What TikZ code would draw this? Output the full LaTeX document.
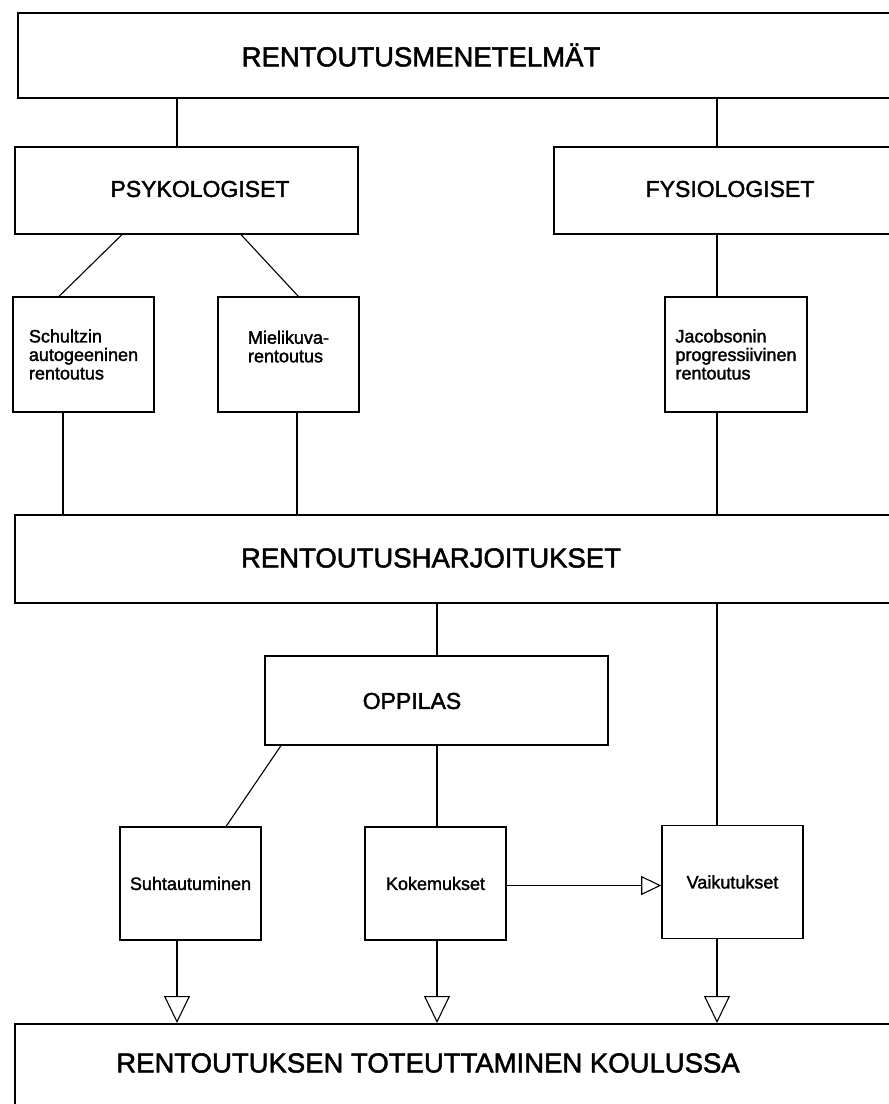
\documentclass[tikz,border=0pt]{standalone}
\usepackage{fontspec}
\setmainfont{Liberation Sans}[FakeBold=1.8]
\usetikzlibrary{arrows.meta}

\begin{document}
\begin{tikzpicture}[x=1pt,y=-1pt]

        \tikzstyle{link} = [line width=1.1pt]
        \tikzstyle{arrow} = [line width=1.1pt,-{Triangle[open,length=27pt,width=26pt,line width=1.1pt]}]
        \tikzstyle{arrowsm} = [line width=1.1pt,-{Triangle[open,length=20pt,width=19pt,line width=1.1pt]}]
        \tikzset{box/.style = {rectangle, draw, line width=1.6pt, inner sep=0pt, anchor=north west}, }
        \tikzset{sbox/.style = {box, anchor=center, minimum width=141pt, minimum height=115pt, align=left, font=\fontsize{18}{18.5}\selectfont}, }
        \tikzset{big/.style = {font=\fontsize{27.5}{30}\selectfont} }
        \tikzset{mid/.style = {font=\fontsize{23}{25}\selectfont} }

        \useasboundingbox (0,0) rectangle (889,1104);
        \clip (0,0) rectangle (889,1104);

        % columns of the vertical lines
        \coordinate (colA) at (177,0);
        \coordinate (colB) at (437,0);
        \coordinate (colC) at (717,0);
        \coordinate (colD) at (63,0);
        \coordinate (colE) at (297,0);

        \node[box, minimum width=890pt, minimum height=85pt] (menet) at (17,12) {};
        \node[big] (menetT) at (421,55) {RENTOUTUSMENETELMÄT};

        \node[box, minimum width=343pt, minimum height=87pt] (psy) at (14,146) {};
        \node[mid] (psyT) at (200,189) {PSYKOLOGISET};
        \node[box, minimum width=360pt, minimum height=87pt] (fys) at (553,146) {};
        \node[mid] (fysT) at (730,189) {FYSIOLOGISET};

        \node[sbox] (schultz) at (83.5,354.5) {Schultzin\\autogeeninen\\rentoutus};
        \node[sbox, text depth=16pt] (mieli) at (288.5,354.5) {Mielikuva-\\rentoutus};
        \node[sbox, minimum width=142pt] (jacob) at (736,354.5) {Jacobsonin\\progressiivinen\\rentoutus};

        \node[box, minimum width=890pt, minimum height=88pt] (harj) at (14,514) {};
        \node[big] (harjT) at (431,558) {RENTOUTUSHARJOITUKSET};

        \node[box, minimum width=343pt, minimum height=89pt] (oppi) at (264,655) {};
        \node[mid] (oppiT) at (412,701) {OPPILAS};

        \node[sbox, minimum height=113pt] (suht) at (190.5,883.5) {Suhtautuminen};
        \node[sbox, minimum height=113pt] (koke) at (435.5,883.5) {Kokemukset};
        \node[sbox, minimum height=113pt] (vaik) at (732.5,882) {Vaikutukset};

        \node[box, minimum width=890pt, minimum height=200pt] (koulu) at (14,1023) {};
        \node[big] (kouluT) at (428,1063) {RENTOUTUKSEN TOTEUTTAMINEN KOULUSSA};

        \path[draw,link]
        (colA |- menet.south) edge (colA |- psy.north)
        (colC |- menet.south) edge (colC |- fys.north)
        ([xshift=108pt]psy.south west) edge ([xshift=47pt]schultz.north west)
        ([xshift=227pt]psy.south west) edge ([xshift=81pt]mieli.north west)
        (colC |- fys.south) edge (colC |- jacob.north)
        (colD |- schultz.south) edge (colD |- harj.north)
        (colE |- mieli.south) edge (colE |- harj.north)
        (colC |- jacob.south) edge (colC |- harj.north)
        (colB |- harj.south) edge (colB |- oppi.north)
        (colC |- harj.south) edge (colC |- vaik.north)
        ([xshift=17pt]oppi.south west) edge ([xshift=107pt]suht.north west)
        (colB |- oppi.south) edge (colB |- koke.north);

        \draw[arrowsm] ([yshift=-2pt]koke.east) -- ([yshift=-2pt]koke.east -| vaik.west);
        \draw[arrow] (colA |- suht.south) -- (colA |- koulu.north);
        \draw[arrow] (colB |- koke.south) -- (colB |- koulu.north);
        \draw[arrow] (colC |- vaik.south) -- (colC |- koulu.north);

\end{tikzpicture}
\end{document}
